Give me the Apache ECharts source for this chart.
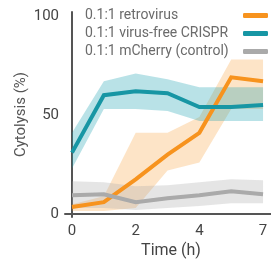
<!DOCTYPE html>
<html>
<head>
<meta charset="utf-8">
<script src="https://cdn.jsdelivr.net/npm/echarts@6/dist/echarts.min.js"></script>
<style>
    html, body { margin: 0; padding: 0; background: #fff; }
    #chart { width: 271px; height: 261px; }
</style>
</head>
<body>
<div id="chart"></div>
<script>
// time points (h), evenly spaced on the plot
var times = ['0', '1', '2', '3', '4', '5', '7'];
var tickIdx = [0, 2, 4, 6];

var names = ['0.1:1 retrovirus', '0.1:1 virus-free CRISPR', '0.1:1 mCherry (control)'];
var colors = ['#f7931e', '#1796a4', '#aaaaaa'];
var bandColors = ['rgba(247,147,30,0.25)', 'rgba(24,160,176,0.3)', 'rgba(170,170,170,0.3)'];

// mean cytolysis (%)
var retro = [3.5, 6, 17.5, 30, 41, 69, 67];
var crispr = [31, 60, 62, 61, 54, 54, 55];
var mcherry = [9.5, 10, 6, 8, 9.5, 11.5, 10];

// band bounds
var retroLo = [1.5, 1.5, 3, 22, 26, 53, 53];
var retroHi = [5, 9, 41, 41, 49, 78, 78];
var crisprLo = [23, 53, 53, 52, 47, 47, 47];
var crisprHi = [41, 67, 71, 68, 64, 64, 64];
var mcherryLo = [3, 3, 2, 3, 4, 5.5, 5.5];
var mcherryHi = [16.5, 16, 14, 14.5, 16, 17.5, 17];

function pts(arr) {
    return arr.map(function (v, i) { return [i, v]; });
}

// shaded band as one polygon, upper edge then lower edge back
function band(lo, hi, color) {
    return {
        type: 'custom',
        silent: true,
        data: lo.map(function (v, i) { return [i, v, hi[i]]; }),
        renderItem: function (params, api) {
            if (params.dataIndex !== 0) return;
            var poly = [];
            for (var i = 0; i < hi.length; i++) poly.push(api.coord([i, hi[i]]));
            for (var j = lo.length - 1; j >= 0; j--) poly.push(api.coord([j, lo[j]]));
            return {
                type: 'polygon',
                shape: {points: poly},
                style: {fill: color, stroke: null}
            };
        },
        encode: {x: 0, y: [1, 2]}
    };
}

function mean(arr, k) {
    return {
        name: names[k], type: 'line', data: pts(arr), symbol: 'none',
        lineStyle: {color: colors[k], width: 4, join: 'miter'},
        itemStyle: {color: colors[k]}
    };
}

var series = [
    band(retroLo, retroHi, bandColors[0]), mean(retro, 0),
    band(crisprLo, crisprHi, bandColors[1]), mean(crispr, 1),
    band(mcherryLo, mcherryHi, bandColors[2]), mean(mcherry, 2)
];

var myChart = echarts.init(document.getElementById('chart'));

option = {
    animation: false,
    textStyle: {fontFamily: 'Roboto'},
    grid: {left: 65, right: 0, top: 12, bottom: 44, containLabel: false, outerBoundsMode: 'none'},
    legend: {
        data: names,
        orient: 'vertical',
        align: 'right',
        left: 80,
        top: 3,
        itemWidth: 25,
        itemHeight: 5,
        itemGap: 3,
        icon: 'roundRect',
        formatter: '{a|{name}}',
        textStyle: {
            fontSize: 14, color: '#6b6b6b', lineHeight: 15, fontFamily: 'Roboto',
            rich: {a: {width: 153, align: 'left', fontSize: 14, color: '#6b6b6b', fontFamily: 'Roboto'}}
        }
    },
    xAxis: {
        type: 'value',
        min: -0.22,
        max: 6.25,
        name: 'Time (h)',
        nameLocation: 'middle',
        nameGap: 26,
        nameMoveOverlap: false,
        nameTextStyle: {fontSize: 16, color: '#444', padding: [0, 0, 0, 6]},
        axisLine: {lineStyle: {color: '#555', width: 2}},
        axisTick: {show: false},
        splitLine: {show: false},
        axisLabel: {
            customValues: tickIdx,
            fontSize: 15, color: '#444', margin: 7,
            formatter: function (v) { return times[Math.round(v)]; }
        }
    },
    yAxis: {
        type: 'value',
        min: -1.5,
        max: 102,
        name: 'Cytolysis (%)',
        nameLocation: 'middle',
        nameGap: 36,
        nameMoveOverlap: false,
        nameRotate: 90,
        nameTextStyle: {fontSize: 15, color: '#555'},
        axisLine: {show: true, lineStyle: {color: '#555', width: 2}},
        axisTick: {show: false},
        splitLine: {show: false},
        axisLabel: {
            customValues: [0, 50, 100],
            fontSize: 15, color: '#444', margin: 6
        }
    },
    series: series
};

myChart.setOption(option);
</script>
</body>
</html>
